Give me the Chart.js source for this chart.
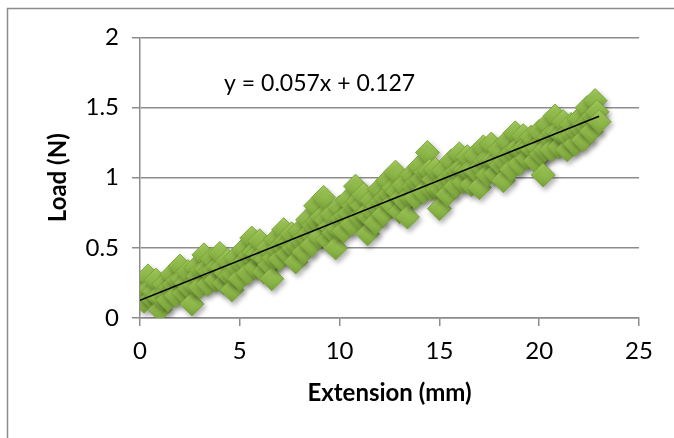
<!DOCTYPE html>
<html>
<head>
<meta charset="utf-8">
<script src="https://cdn.jsdelivr.net/npm/chart.js@4/dist/chart.umd.min.js"></script>
<style>
  html, body { margin: 0; padding: 0; background: #fff; }
  #wrap { width: 674px; height: 438px; }
</style>
</head>
<body>
<div id="wrap"><canvas id="loadChart" width="674" height="438"></canvas></div>
<script>
// extension (mm) readings
const extension = [
  0.0, 0.1, 0.2, 0.3, 0.4, 0.5, 0.6, 0.7, 0.8, 0.9,
  1.0, 1.1, 1.2, 1.3, 1.4, 1.5, 1.6, 1.7, 1.8, 1.9,
  2.0, 2.1, 2.2, 2.3, 2.4, 2.5, 2.6, 2.7, 2.8, 2.9,
  3.0, 3.1, 3.2, 3.3, 3.4, 3.5, 3.6, 3.7, 3.8, 3.9,
  4.0, 4.1, 4.2, 4.3, 4.4, 4.5, 4.6, 4.7, 4.8, 4.9,
  5.0, 5.1, 5.2, 5.3, 5.4, 5.5, 5.6, 5.7, 5.8, 5.9,
  6.0, 6.1, 6.2, 6.3, 6.4, 6.5, 6.6, 6.7, 6.8, 6.9,
  7.0, 7.1, 7.2, 7.3, 7.4, 7.5, 7.6, 7.7, 7.8, 7.9,
  8.0, 8.1, 8.2, 8.3, 8.4, 8.5, 8.6, 8.7, 8.8, 8.9,
  9.0, 9.1, 9.2, 9.3, 9.4, 9.5, 9.6, 9.7, 9.8, 9.9,
  10.0, 10.1, 10.2, 10.3, 10.4, 10.5, 10.6, 10.7, 10.8, 10.9,
  11.0, 11.1, 11.2, 11.3, 11.4, 11.5, 11.6, 11.7, 11.8, 11.9,
  12.0, 12.1, 12.2, 12.3, 12.4, 12.5, 12.6, 12.7, 12.8, 12.9,
  13.0, 13.1, 13.2, 13.3, 13.4, 13.5, 13.6, 13.7, 13.8, 13.9,
  14.0, 14.1, 14.2, 14.3, 14.4, 14.5, 14.6, 14.7, 14.8, 14.9,
  15.0, 15.1, 15.2, 15.3, 15.4, 15.5, 15.6, 15.7, 15.8, 15.9,
  16.0, 16.1, 16.2, 16.3, 16.4, 16.5, 16.6, 16.7, 16.8, 16.9,
  17.0, 17.1, 17.2, 17.3, 17.4, 17.5, 17.6, 17.7, 17.8, 17.9,
  18.0, 18.1, 18.2, 18.3, 18.4, 18.5, 18.6, 18.7, 18.8, 18.9,
  19.0, 19.1, 19.2, 19.3, 19.4, 19.5, 19.6, 19.7, 19.8, 19.9,
  20.0, 20.1, 20.2, 20.3, 20.4, 20.5, 20.6, 20.7, 20.8, 20.9,
  21.0, 21.1, 21.2, 21.3, 21.4, 21.5, 21.6, 21.7, 21.8, 21.9,
  22.0, 22.1, 22.2, 22.3, 22.4, 22.5, 22.6, 22.7, 22.8, 22.9,
  23.0
];

// load (N) readings
const load = [
  0.18, 0.22, 0.12, 0.20, 0.30, 0.21, 0.14, 0.19, 0.27, 0.15,
  0.06, 0.14, 0.24, 0.18, 0.13, 0.22, 0.31, 0.24, 0.16, 0.27,
  0.37, 0.28, 0.18, 0.25, 0.33, 0.21, 0.10, 0.24, 0.36, 0.30,
  0.22, 0.34, 0.45, 0.35, 0.24, 0.33, 0.42, 0.34, 0.27, 0.37,
  0.46, 0.36, 0.25, 0.32, 0.41, 0.30, 0.20, 0.31, 0.43, 0.36,
  0.28, 0.39, 0.49, 0.41, 0.32, 0.45, 0.57, 0.47, 0.36, 0.46,
  0.55, 0.44, 0.33, 0.42, 0.50, 0.38, 0.28, 0.43, 0.56, 0.49,
  0.42, 0.52, 0.63, 0.55, 0.46, 0.54, 0.60, 0.50, 0.40, 0.52,
  0.62, 0.55, 0.47, 0.58, 0.70, 0.61, 0.52, 0.66, 0.80, 0.69,
  0.58, 0.72, 0.86, 0.70, 0.56, 0.65, 0.74, 0.61, 0.50, 0.64,
  0.79, 0.71, 0.62, 0.73, 0.84, 0.75, 0.67, 0.80, 0.94, 0.83,
  0.72, 0.80, 0.88, 0.74, 0.60, 0.72, 0.84, 0.76, 0.68, 0.80,
  0.92, 0.83, 0.74, 0.86, 0.98, 0.89, 0.81, 0.93, 1.04, 0.90,
  0.76, 0.86, 0.95, 0.83, 0.72, 0.87, 1.02, 0.94, 0.86, 0.97,
  1.08, 0.99, 0.90, 1.04, 1.18, 1.05, 0.92, 0.99, 1.06, 0.92,
  0.78, 0.92, 1.05, 0.96, 0.88, 1.00, 1.12, 1.03, 0.94, 1.05,
  1.17, 1.07, 0.97, 1.06, 1.15, 1.05, 0.95, 1.06, 1.16, 1.04,
  0.93, 1.08, 1.22, 1.12, 1.02, 1.13, 1.24, 1.13, 1.03, 1.12,
  1.20, 1.09, 0.98, 1.12, 1.26, 1.16, 1.06, 1.19, 1.32, 1.21,
  1.10, 1.20, 1.30, 1.22, 1.14, 1.22, 1.29, 1.20, 1.12, 1.22,
  1.33, 1.17, 1.02, 1.20, 1.38, 1.29, 1.20, 1.32, 1.44, 1.33,
  1.22, 1.31, 1.40, 1.30, 1.20, 1.29, 1.38, 1.31, 1.24, 1.33,
  1.42, 1.35, 1.27, 1.38, 1.50, 1.41, 1.33, 1.44, 1.55, 1.47,
  1.40
];

// linear trendline shown on the chart
const trendSlope = 0.057;
const trendIntercept = 0.127;
const trendLabel = 'y = 0.057x + 0.127';

const xTicks = [0, 5, 10, 15, 20, 25];
const yTicks = [0, 0.5, 1, 1.5, 2];
const yTitle = 'Load (N)';

const points = extension.map((x, i) => ({x: x, y: load[i]}));
const xFirst = extension[0];
const xLast = extension[extension.length - 1];
const trendPoints = [
  {x: xFirst, y: trendIntercept + trendSlope * xFirst},
  {x: xLast, y: trendIntercept + trendSlope * xLast}
];

const axisGrey = '#8c8c8c';
const font = 'Lato, "Open Sans", sans-serif';
const markerRadius = 12;

// vertical light-to-dark fill on each diamond
function diamondFill(context) {
  const chart = context.chart;
  const xs = chart.scales.x;
  const ys = chart.scales.y;
  if (!xs || !ys || !context.parsed) return '#8fbb4a';
  const px = xs.getPixelForValue(context.parsed.x);
  const py = ys.getPixelForValue(context.parsed.y);
  if (!isFinite(px) || !isFinite(py)) return '#8fbb4a';
  const g = chart.ctx.createLinearGradient(px, py - markerRadius, px, py + markerRadius);
  g.addColorStop(0, '#a5cd5e');
  g.addColorStop(0.5, '#90bb4b');
  g.addColorStop(1, '#7aa43a');
  return g;
}

// soft drop shadow under the diamonds
const markerShadow = {
  id: 'markerShadow',
  beforeDatasetDraw(chart, args) {
    if (args.index !== 0) return;
    const ctx = chart.ctx;
    ctx.save();
    ctx.shadowColor = 'rgba(0,0,0,0.3)';
    ctx.shadowBlur = 5;
    ctx.shadowOffsetX = 2;
    ctx.shadowOffsetY = 3;
  },
  afterDatasetDraw(chart, args) {
    if (args.index !== 0) return;
    chart.ctx.restore();
  }
};

// outer frame, y title and equation text
const frameAndLabel = {
  id: 'frameAndLabel',
  beforeDraw(chart) {
    const ctx = chart.ctx;
    ctx.save();
    ctx.fillStyle = '#fff';
    ctx.fillRect(0, 0, chart.width, chart.height);
    ctx.strokeStyle = axisGrey;
    ctx.lineWidth = 1.5;
    ctx.strokeRect(7.5, 8.5, chart.width + 10, chart.height + 10);
    ctx.restore();
  },
  afterDraw(chart) {
    const ctx = chart.ctx;
    const xs = chart.scales.x;
    const ys = chart.scales.y;
    const area = chart.chartArea;
    ctx.save();
    ctx.fillStyle = '#000';
    ctx.font = '23px ' + font;
    ctx.textAlign = 'center';
    ctx.textBaseline = 'middle';
    ctx.fillText(trendLabel, xs.getPixelForValue(9), ys.getPixelForValue(1.67));

    ctx.translate(58, (area.top + area.bottom) / 2);
    ctx.rotate(-Math.PI / 2);
    ctx.font = 'bold 24px ' + font;
    ctx.fillText(yTitle, 0, 0);
    ctx.restore();
  }
};

new Chart(document.getElementById('loadChart'), {
  type: 'scatter',
  data: {
    datasets: [
      {
        label: 'Load',
        data: points,
        pointStyle: 'rectRot',
        pointRadius: markerRadius,
        pointHoverRadius: markerRadius,
        backgroundColor: diamondFill,
        borderColor: '#7ba63b',
        borderWidth: 1,
        order: 2
      },
      {
        type: 'line',
        label: 'Trend',
        data: trendPoints,
        borderColor: '#000',
        borderWidth: 1.5,
        pointRadius: 0,
        fill: false,
        order: 1
      }
    ]
  },
  options: {
    responsive: false,
    animation: false,
    layout: {
      padding: {top: 37.5, right: 35, bottom: 0, left: 0}
    },
    plugins: {
      legend: {display: false},
      tooltip: {enabled: false}
    },
    scales: {
      x: {
        type: 'linear',
        min: 0,
        max: 25,
        afterBuildTicks(scale) {
          scale.ticks = xTicks.map(v => ({value: v}));
        },
        afterFit(scale) {
          scale.height = 120;
        },
        grid: {
          drawOnChartArea: false,
          color: axisGrey,
          lineWidth: 1.5,
          tickLength: 8
        },
        border: {color: axisGrey, width: 1.5},
        ticks: {
          color: '#000',
          font: {family: font, size: 24},
          padding: 11,
          maxRotation: 0,
          callback: v => String(v)
        },
        title: {
          display: true,
          text: 'Extension (mm)',
          color: '#000',
          font: {family: font, size: 24, weight: 'bold'},
          padding: {top: 0, bottom: 30}
        }
      },
      y: {
        type: 'linear',
        min: 0,
        max: 2,
        afterBuildTicks(scale) {
          scale.ticks = yTicks.map(v => ({value: v}));
        },
        afterFit(scale) {
          scale.width = 140;
        },
        grid: {
          color: axisGrey,
          lineWidth: 1.5,
          tickLength: 8
        },
        border: {color: axisGrey, width: 1.5},
        ticks: {
          color: '#000',
          font: {family: font, size: 24},
          padding: 13,
          callback: v => String(v)
        },
        title: {display: false}
      }
    }
  },
  plugins: [markerShadow, frameAndLabel]
});
</script>
</body>
</html>
